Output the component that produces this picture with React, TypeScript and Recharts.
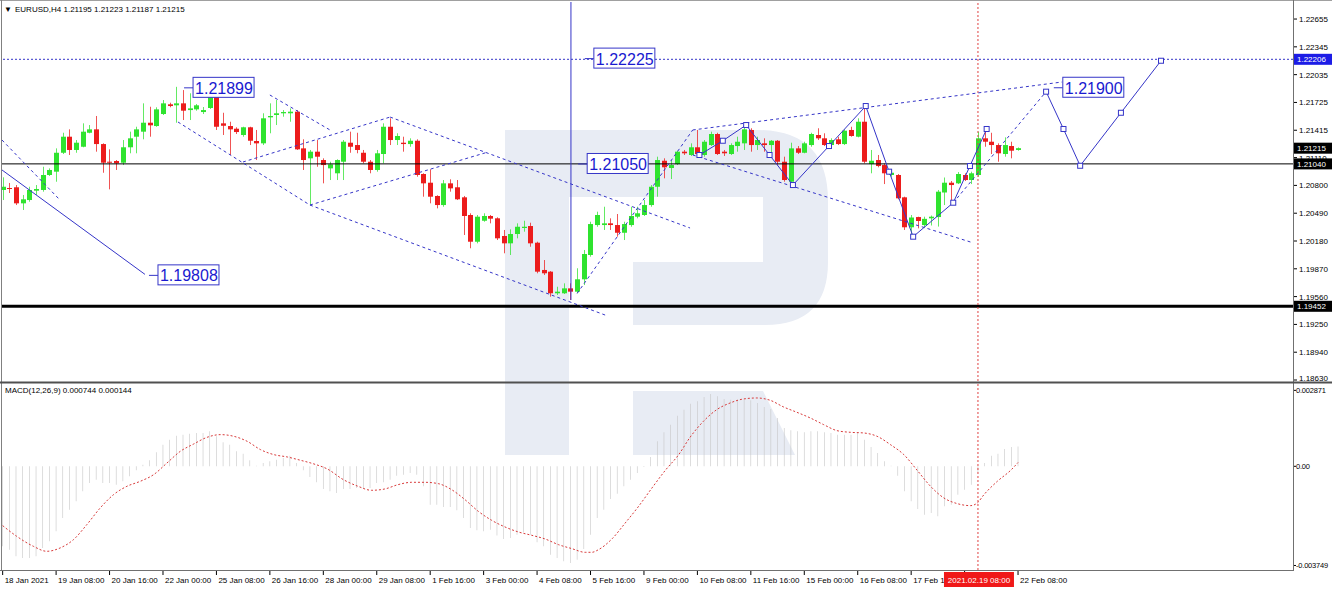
import React from "react";
import { ComposedChart, Bar, Line, XAxis, YAxis, ReferenceLine, ReferenceDot } from "recharts";

const FONT = "'Liberation Sans', Arial, sans-serif";
const BLUE = "#3535c8";
const BULL = "#2fe32f";
const BEAR = "#ec1c1c";
const W = 1332;
const AXIS_X = 1293;

// EURUSD H4 candles, 18 Jan 2021 00:00 .. 22 Feb 2021 08:00
const openP = [
  1.20749, 1.20771, 1.20779, 1.206, 1.20637, 1.20741, 1.20749, 1.20916, 1.20953, 1.21164,
  1.21343, 1.21195, 1.21231, 1.21387, 1.21425, 1.21261, 1.21064, 1.21072, 1.21053, 1.21225,
  1.21343, 1.21399, 1.21499, 1.21462, 1.21596, 1.21704, 1.21693, 1.21715, 1.2164, 1.21648,
  1.21618, 1.21663, 1.21797, 1.21492, 1.21462, 1.21432, 1.21362, 1.21448, 1.21295, 1.21269,
  1.21559, 1.21585, 1.21604, 1.21604, 1.21622, 1.21213, 1.21102, 1.21176, 1.21083, 1.2099,
  1.20935, 1.21064, 1.21276, 1.2125, 1.21164, 1.21064, 1.20972, 1.2115, 1.21454, 1.21306,
  1.21276, 1.21261, 1.21298, 1.20927, 1.2083, 1.20682, 1.20581, 1.20823, 1.20779, 1.20667,
  1.2047, 1.20172, 1.20406, 1.20459, 1.20433, 1.20236, 1.20154, 1.20258, 1.20325, 1.20347,
  1.20161, 1.19857, 1.19838, 1.19597, 1.19597, 1.19652, 1.19615, 1.19753, 1.20024, 1.20358,
  1.20358, 1.20377, 1.20358, 1.20272, 1.20358, 1.20451, 1.2047, 1.20581, 1.20785, 1.21075,
  1.20994, 1.21038, 1.21176, 1.21139, 1.21225, 1.21139, 1.2125, 1.21373, 1.21176, 1.2115,
  1.21239, 1.21269, 1.21418, 1.2125, 1.21269, 1.2125, 1.21298, 1.21064, 1.20841, 1.21213,
  1.21164, 1.2125, 1.21362, 1.21325, 1.2125, 1.21314, 1.21261, 1.21418, 1.21343, 1.2151,
  1.21038, 1.21083, 1.21027, 1.20916, 1.20916, 1.20667, 1.20333, 1.20447, 1.20358, 1.20433,
  1.20447, 1.20721, 1.2083, 1.20823, 1.20916, 1.2086, 1.20916, 1.21325, 1.21287, 1.2125,
  1.2115, 1.21239, 1.21195,
];
const highP = [
  1.2089, 1.20827, 1.20804, 1.20693, 1.20785, 1.20804, 1.21008, 1.2099, 1.21213, 1.21387,
  1.21425, 1.21306, 1.21492, 1.21473, 1.21574, 1.21269, 1.21202, 1.21083, 1.21306, 1.21399,
  1.21454, 1.21715, 1.21677, 1.21671, 1.21752, 1.21722, 1.21899, 1.21863, 1.21827, 1.21707,
  1.21674, 1.21808, 1.21827, 1.2161, 1.2151, 1.21448, 1.21454, 1.21454, 1.21418, 1.21604,
  1.21715, 1.21752, 1.2164, 1.21659, 1.2164, 1.21314, 1.21195, 1.21306, 1.21102, 1.21064,
  1.21091, 1.21306, 1.21399, 1.21387, 1.21195, 1.21083, 1.21195, 1.21492, 1.21548, 1.21381,
  1.21343, 1.21325, 1.21314, 1.20935, 1.20979, 1.2069, 1.2086, 1.20868, 1.2086, 1.20682,
  1.20489, 1.2047, 1.20489, 1.2047, 1.20444, 1.20303, 1.2031, 1.20377, 1.20406, 1.20384,
  1.20172, 1.19968, 1.19845, 1.1967, 1.19708, 1.19708, 1.19876, 1.2008, 1.20395, 1.20507,
  1.20562, 1.20433, 1.20481, 1.20395, 1.20562, 1.20562, 1.20637, 1.20804, 1.2112, 1.21102,
  1.21083, 1.21187, 1.21195, 1.21269, 1.21418, 1.21306, 1.21399, 1.21387, 1.21195, 1.21269,
  1.21343, 1.21473, 1.21437, 1.21343, 1.21325, 1.21306, 1.21306, 1.2112, 1.21276, 1.21239,
  1.21287, 1.21387, 1.21437, 1.21381, 1.21325, 1.21343, 1.21425, 1.21454, 1.21548, 1.21685,
  1.21195, 1.21139, 1.21046, 1.20972, 1.20927, 1.20674, 1.2047, 1.20451, 1.20451, 1.20464,
  1.20749, 1.20888, 1.20849, 1.20949, 1.20935, 1.20953, 1.21399, 1.21437, 1.21387, 1.21269,
  1.21336, 1.21287, 1.21223,
];
const lowP = [
  1.20637, 1.20715, 1.20581, 1.20526, 1.20618, 1.20693, 1.2073, 1.20905, 1.20841, 1.2115,
  1.21139, 1.21164, 1.21225, 1.21381, 1.21176, 1.20941, 1.20756, 1.20972, 1.21027, 1.21158,
  1.21158, 1.21314, 1.21343, 1.21454, 1.21585, 1.21671, 1.21499, 1.21529, 1.21529, 1.21633,
  1.21596, 1.21652, 1.21418, 1.21362, 1.21139, 1.21373, 1.21343, 1.2125, 1.21083, 1.2125,
  1.21381, 1.21473, 1.21566, 1.2151, 1.21195, 1.20972, 1.20581, 1.21008, 1.20823, 1.2086,
  1.2086, 1.2086, 1.21164, 1.21158, 1.21046, 1.20935, 1.20953, 1.21046, 1.2125, 1.2125,
  1.21176, 1.21231, 1.20897, 1.20674, 1.206, 1.20544, 1.20562, 1.2073, 1.20637, 1.20247,
  1.20099, 1.20154, 1.20395, 1.20377, 1.20191, 1.20043, 1.20024, 1.2021, 1.20284, 1.20116,
  1.1982, 1.19801, 1.19559, 1.19578, 1.19589, 1.19522, 1.19597, 1.19689, 1.20005, 1.20339,
  1.20303, 1.20303, 1.20228, 1.20191, 1.20339, 1.20433, 1.20459, 1.20562, 1.20674, 1.20879,
  1.20871, 1.21027, 1.21139, 1.21128, 1.21128, 1.2112, 1.21239, 1.21139, 1.21128, 1.21139,
  1.21176, 1.21195, 1.21176, 1.21195, 1.21176, 1.21158, 1.21027, 1.20841, 1.20804, 1.2115,
  1.21158, 1.21231, 1.21306, 1.21239, 1.21231, 1.2125, 1.2125, 1.21343, 1.21336, 1.21046,
  1.20935, 1.21002, 1.20815, 1.20897, 1.20645, 1.20303, 1.20228, 1.20321, 1.20336, 1.20353,
  1.20341, 1.20581, 1.20607, 1.20815, 1.20849, 1.20815, 1.20897, 1.21231, 1.2115, 1.21064,
  1.2112, 1.21102, 1.21187,
];
const closeP = [
  1.20785, 1.2076, 1.206, 1.20645, 1.20749, 1.2076, 1.20916, 1.20972, 1.21164, 1.21343,
  1.21195, 1.21276, 1.21399, 1.21425, 1.21261, 1.21053, 1.21053, 1.21046, 1.21225, 1.21325,
  1.21425, 1.21499, 1.2147, 1.21648, 1.21715, 1.21685, 1.21715, 1.21633, 1.21659, 1.21693,
  1.2164, 1.21791, 1.21454, 1.21465, 1.21425, 1.21395, 1.21448, 1.21298, 1.21269, 1.21548,
  1.21574, 1.21604, 1.21618, 1.21622, 1.21202, 1.21083, 1.21176, 1.2112, 1.21027, 1.21035,
  1.21083, 1.21287, 1.21231, 1.21195, 1.21064, 1.20972, 1.21158, 1.21454, 1.21306, 1.21351,
  1.21261, 1.21298, 1.20916, 1.20823, 1.20674, 1.20581, 1.20823, 1.20767, 1.20645, 1.20459,
  1.20172, 1.20451, 1.20459, 1.20429, 1.2021, 1.20154, 1.20258, 1.20339, 1.20339, 1.20154,
  1.19838, 1.1982, 1.19597, 1.19615, 1.19652, 1.19615, 1.19753, 1.20035, 1.20369, 1.2047,
  1.20377, 1.20358, 1.20272, 1.20369, 1.20459, 1.20489, 1.20581, 1.20785, 1.21083, 1.21002,
  1.21027, 1.21176, 1.21158, 1.21225, 1.2115, 1.21287, 1.21373, 1.2115, 1.21158, 1.2125,
  1.21287, 1.21425, 1.2125, 1.21306, 1.2125, 1.21298, 1.21064, 1.2086, 1.21213, 1.21164,
  1.21269, 1.21373, 1.21325, 1.2125, 1.21306, 1.21261, 1.2141, 1.21351, 1.2151, 1.21064,
  1.21075, 1.21016, 1.20935, 1.20941, 1.20656, 1.20333, 1.20442, 1.20403, 1.20427, 1.20451,
  1.2073, 1.2083, 1.20804, 1.20927, 1.2086, 1.20935, 1.21325, 1.21287, 1.2125, 1.21158,
  1.2125, 1.21187, 1.21215,
];

// MACD(12,26,9) main line, drawn as histogram
const macdHist = [
  -0.003024, -0.00315, -0.003402, -0.003465, -0.003465, -0.003402, -0.003087, -0.002835, -0.002457, -0.001953,
  -0.001638, -0.001323, -0.000945, -0.00063, -0.000504, -0.00063, -0.00063, -0.000693, -0.000567, -0.000378,
  -0.000151, 0.000063, 0.000227, 0.000529, 0.000819, 0.001008, 0.001159, 0.001197, 0.001235, 0.00126,
  0.00126, 0.001323, 0.001134, 0.000907, 0.000819, 0.000567, 0.000479, 0.000227, 0.000025, 0.000126,
  0.000189, 0.000252, 0.000315, 0.000403, 0.000126, -0.000151, -0.000403, -0.000605, -0.000857, -0.000945,
  -0.001008, -0.000857, -0.000857, -0.000819, -0.000819, -0.000819, -0.00063, -0.000605, -0.000504, -0.000353,
  -0.000315, -0.000252, -0.000315, -0.000756, -0.001449, -0.001449, -0.001537, -0.001537, -0.001663, -0.001953,
  -0.002331, -0.002419, -0.002457, -0.002394, -0.00262, -0.002747, -0.002709, -0.002583, -0.002495, -0.002583,
  -0.002873, -0.003024, -0.003339, -0.003465, -0.003591, -0.003654, -0.003528, -0.003125, -0.002583, -0.001953,
  -0.001638, -0.001235, -0.001033, -0.000756, -0.000504, -0.000252, -0.000025, 0.000353, 0.000945, 0.001285,
  0.001575, 0.001915, 0.002142, 0.002369, 0.002457, 0.002621, 0.002734, 0.002646, 0.002545, 0.00252,
  0.00252, 0.00252, 0.002495, 0.002394, 0.002243, 0.002167, 0.001827, 0.001449, 0.001361, 0.001323,
  0.001285, 0.001323, 0.001323, 0.001285, 0.00126, 0.001197, 0.001197, 0.001197, 0.001285, 0.001008,
  0.000731, 0.000504, 0.000189, 0.00002, -0.000353, -0.000945, -0.001323, -0.001613, -0.001827, -0.001764,
  -0.00189, -0.001512, -0.001449, -0.001071, -0.000882, -0.000693, -0.000227, 0.000126, 0.000403, 0.000479,
  0.000655, 0.000731, 0.000744,
];

// signal line, read at these bar positions
const signalIdx = [
  0, 2.1, 4.6, 6.6, 8.6, 10.6, 12.6, 14.6, 16.6, 18.6, 20.6, 22.6, 24.6, 26.6, 28.6, 30.6, 32.6, 34.6, 36.6, 38.6,
  40.6, 42.6, 44.6, 46.6, 48.6, 51, 53.2, 55.2, 57.2, 59.2, 61.2, 63.2, 65.2, 67.2, 69.2, 71.2, 73.2, 75.2, 77.2, 79.2,
  81.2, 83.2, 85.2, 87.2, 88.2, 89.2, 91.2, 93.2, 95.2, 97.2, 99.2, 101.2, 102.9, 104.9, 106.9, 108.9, 110.9, 112.9, 114.9, 116.9,
  118.9, 120.9, 122.9, 124.9, 126.9, 128.9, 130.9, 132.9, 134.9, 136.9, 138.9, 140.9, 142.9, 144.9, 145.9, 146.9, 148.9, 150.9, 152,
];
const signalVal = [
  -0.002243, -0.002646, -0.003024, -0.003213, -0.003087, -0.002772, -0.002205, -0.001575, -0.001071, -0.000756,
  -0.000567, -0.000315, 0.000126, 0.000567, 0.000844, 0.001096, 0.001197, 0.001134, 0.000945, 0.00063,
  0.000441, 0.000353, 0.000227, 0.000088, -0.000101, -0.000504, -0.000756, -0.000907, -0.000857, -0.000693,
  -0.000605, -0.000605, -0.000655, -0.000882, -0.00126, -0.001701, -0.002041, -0.002293, -0.002482, -0.002608,
  -0.002747, -0.002961, -0.003112, -0.003251, -0.003251, -0.00315, -0.002747, -0.002142, -0.001512, -0.000819,
  -0.000151, 0.000441, 0.001096, 0.001701, 0.002142, 0.002394, 0.002545, 0.002583, 0.002495, 0.002243,
  0.002041, 0.001827, 0.001575, 0.001348, 0.001285, 0.00126, 0.001134, 0.000819, 0.000441, -0.000151,
  -0.000756, -0.001197, -0.001411, -0.001487, -0.001386, -0.001071, -0.000567, -0.000151, 0.000144,
];

const priceTicks = [1.22655, 1.22345, 1.22035, 1.21725, 1.21415, 1.2111, 1.208, 1.2049, 1.2018, 1.1987, 1.1956, 1.1925, 1.1894, 1.1863];
const markPrices = [1.22206, 1.21215, 1.2104, 1.19452];
const markFill = ["#1c1ce6", "#000000", "#000000", "#000000"];
const macdTicks = [0.002871, 0, -0.003749];
const macdTickText = ["0.002871", "0.00", "-0.003749"];

const timeIdx = [0, 8, 16, 24, 32, 40, 48, 56, 64, 72, 80, 88, 96, 104, 112, 120, 128, 136, 144, 152];
const timeText = [
  "18 Jan 2021", "19 Jan 08:00", "20 Jan 16:00", "22 Jan 00:00", "25 Jan 08:00", "26 Jan 16:00", "28 Jan 00:00",
  "29 Jan 08:00", "1 Feb 16:00", "3 Feb 00:00", "4 Feb 08:00", "5 Feb 16:00", "9 Feb 00:00", "10 Feb 08:00",
  "11 Feb 16:00", "15 Feb 00:00", "16 Feb 08:00", "17 Feb 16:00", "19 Feb 00:00", "22 Feb 08:00",
];
const cursorIdx = 146;
const cursorText = "2021.02.19 08:00";

// analysis drawn on the chart, in (bar, price)
const zigzagIdx = [104.3, 107.8, 111.3, 114.8, 118.3, 123.7, 129.2, 132.7, 136.3, 142.3, 144.8, 147.3];
const zigzagPrice = [1.21139, 1.21298, 1.21473, 1.21139, 1.20804, 1.21239, 1.21685, 1.20953, 1.20228, 1.20607, 1.21016, 1.21429];
const forecastIdx = [156.2, 158.8, 161.3, 167.4, 173.4];
const forecastPrice = [1.21845, 1.21429, 1.21019, 1.2161, 1.2219];
const dashSegs = [
  [-0.1, 1.21306, 8.58, 1.20637],
  [26.24, 1.21507, 46.0, 1.20581],
  [40.0, 1.21808, 49.0, 1.21418],
  [35.97, 1.21061, 58.0, 1.21562],
  [58.0, 1.21562, 102.9, 1.20325],
  [46.0, 1.20581, 72.65, 1.21172],
  [46.0, 1.20581, 90.6, 1.19343],
  [86.0, 1.19596, 103.3, 1.21418],
  [103.3, 1.21418, 158.6, 1.21953],
  [103.3, 1.21139, 145.3, 1.20159],
  [142.3, 1.20607, 156.2, 1.21845],
];
const solidSegs = [
  [-0.1, 1.20972, 21.3, 1.19808],
  [85.07, 1.22845, 85.07, 1.19522],
];
const tagIdx = [28.5, 88.5, 87.5, 23.25, 158.7];
const tagPrice = [1.21899, 1.22225, 1.2105, 1.19808, 1.219];

const bars = openP.map((o, i) => ({
  i,
  o,
  h: highP[i],
  l: lowP[i],
  c: closeP[i],
  range: [lowP[i], highP[i]],
  macd: macdHist[i],
}));
const signalData = signalIdx.map((i, k) => ({ i, v: signalVal[k] }));
const zigzagData = zigzagIdx.map((i, k) => ({ i, p: zigzagPrice[k] }));
const forecastData = forecastIdx.map((i, k) => ({ i, p: forecastPrice[k] }));

const X_DOMAIN: [number, number] = [-0.1, 193.16];
const P_DOMAIN: [number, number] = [1.18619, 1.22845];
const M_DOMAIN: [number, number] = [-0.00392, 0.003149];

function Candle(props: any) {
  const { x, y, width, height, payload } = props;
  if (!payload) return null;
  const { o, h, l, c } = payload;
  const top = Math.min(y, y + height);
  const hh = Math.abs(height);
  const k = hh / Math.max(h - l, 1e-9);
  const yo = top + (h - o) * k;
  const yc = top + (h - c) * k;
  const cx = Math.round(x + width / 2) + 0.5;
  const col = c >= o ? BULL : BEAR;
  const bt = Math.min(yo, yc);
  const bh = Math.max(Math.abs(yc - yo), 1);
  return (
    <g>
      <line x1={cx} x2={cx} y1={top} y2={top + hh} stroke={col} strokeWidth={1} opacity={0.75} />
      <rect x={cx - 2.5} y={bt} width={5} height={bh} fill={col} />
    </g>
  );
}

function SquareDot(props: any) {
  const { cx, cy } = props;
  if (cx == null || cy == null) return null;
  return <rect x={cx - 2.5} y={cy - 2.5} width={5} height={5} fill="#fff" stroke={BLUE} strokeWidth={1} />;
}

function Tag(props: any) {
  const { cx, cy, text } = props;
  return (
    <g>
      <line x1={cx - 9} x2={cx} y1={cy + 1} y2={cy + 1} stroke={BLUE} strokeWidth={1} />
      <rect x={cx} y={cy - 9.5} width={61} height={20} fill="#fff" stroke={BLUE} strokeWidth={1} />
      <text x={cx + 2} y={cy + 7} fontSize={16} fill="#1a1ad0" fontFamily={FONT}>
        {text}
      </text>
    </g>
  );
}

function PriceTick(props: any) {
  const { y, payload } = props;
  const v = payload.value;
  const m = markPrices.indexOf(v);
  if (m >= 0) {
    return (
      <g>
        <rect x={AXIS_X + 1} y={y - 5.5} width={W - AXIS_X - 1} height={11} fill={markFill[m]} />
        <text x={AXIS_X + 4} y={y + 3} fontSize={8} fill="#fff" fontFamily={FONT}>
          {v.toFixed(5)}
        </text>
      </g>
    );
  }
  // lowest label sits just above the panel separator
  const ty = v === priceTicks[priceTicks.length - 1] ? y + 1 : y + 3;
  return (
    <g>
      <line x1={AXIS_X} x2={AXIS_X + 4} y1={y} y2={y} stroke="#000" />
      <text x={AXIS_X + 6} y={ty} fontSize={8} fill="#000" fontFamily={FONT}>
        {v.toFixed(5)}
      </text>
    </g>
  );
}

function MacdTick(props: any) {
  const { y, payload } = props;
  const k = macdTicks.indexOf(payload.value);
  return (
    <g>
      <line x1={AXIS_X} x2={AXIS_X + 3} y1={y} y2={y} stroke="#000" />
      <text x={AXIS_X + 3} y={y + 3} fontSize={7.5} letterSpacing={-0.2} fill="#000" fontFamily={FONT}>
        {macdTickText[k]}
      </text>
    </g>
  );
}

function TimeTick(props: any) {
  const { x, payload } = props;
  const v = payload.value;
  if (v === cursorIdx) {
    return (
      <g>
        <rect x={x - 34} y={189} width={70} height={15} fill="#f01818" />
        <text x={x + 1} y={200} fontSize={8} fill="#fff" textAnchor="middle" fontFamily={FONT}>
          {cursorText}
        </text>
      </g>
    );
  }
  const k = timeIdx.indexOf(v);
  return (
    <g>
      <line x1={x} x2={x} y1={187} y2={192} stroke="#000" />
      <text x={x + 2} y={200} fontSize={8} fill="#000" fontFamily={FONT}>
        {timeText[k]}
      </text>
    </g>
  );
}

function Logo() {
  const c = "#e8ecf4";
  return (
    <svg width={W} height={590} style={{ position: "absolute", left: 0, top: 0 }}>
      <rect x={505} y={130} width={64} height={325} fill={c} />
      <path
        d="M569 130 H757 Q828 130 828 201 V262 Q828 325 765 325 H633 V262 H763 V197 H569 Z"
        fill={c}
      />
      <path d="M633 391 H763 L795 455 H633 Z" fill={c} />
    </svg>
  );
}

function Frame() {
  return (
    <svg width={W} height={590} style={{ position: "absolute", left: 0, top: 0, pointerEvents: "none" }}>
      <line x1={0} x2={W} y1={0.5} y2={0.5} stroke="#a0a0a0" />
      <line x1={1.5} x2={1.5} y1={0} y2={570} stroke="#808080" />
      <line x1={AXIS_X + 0.5} x2={AXIS_X + 0.5} y1={0} y2={570} stroke="#707070" />
      <line x1={0} x2={W} y1={382.5} y2={382.5} stroke="#505050" strokeWidth={2} />
      <line x1={0} x2={AXIS_X + 1} y1={570.5} y2={570.5} stroke="#707070" />
      <text x={4} y={12} fontSize={8} fill="#000" fontFamily={FONT}>
        ▼
      </text>
      <text x={15} y={12} fontSize={8} fill="#000" fontFamily={FONT}>
        EURUSD,H4  1.21195 1.21223 1.21187 1.21215
      </text>
      <text x={5} y={393} fontSize={8} fill="#000" fontFamily={FONT}>
        MACD(12,26,9) 0.000744 0.000144
      </text>
    </svg>
  );
}

export default function App() {
  return (
    <div style={{ position: "absolute", left: 0, top: 0, width: W, height: 590, background: "#fff", fontFamily: FONT }}>
      <Logo />
      <div style={{ position: "absolute", left: 0, top: 0 }}>
        <ComposedChart width={W} height={383} data={bars} margin={{ top: 2, right: 0, bottom: 2, left: 2 }}>
          <XAxis dataKey="i" type="number" domain={X_DOMAIN} allowDataOverflow hide />
          <YAxis
            orientation="right"
            width={W - AXIS_X}
            domain={P_DOMAIN}
            allowDataOverflow
            ticks={[...priceTicks, ...markPrices]}
            interval={0}
            tick={<PriceTick />}
            tickLine={false}
            axisLine={false}
          />
          <ReferenceLine y={1.22206} stroke={BLUE} strokeDasharray="2 2" />
          <ReferenceLine y={1.2104} stroke="#000" strokeWidth={1} />
          <ReferenceLine y={1.19452} stroke="#000" strokeWidth={3} />
          <ReferenceLine x={cursorIdx} stroke="#e04040" strokeDasharray="2 2" />
          {dashSegs.map((s, k) => (
            <ReferenceLine
              key={"d" + k}
              segment={[{ x: s[0], y: s[1] }, { x: s[2], y: s[3] }]}
              stroke={BLUE}
              strokeDasharray="3 3"
              ifOverflow="visible"
            />
          ))}
          {solidSegs.map((s, k) => (
            <ReferenceLine
              key={"s" + k}
              segment={[{ x: s[0], y: s[1] }, { x: s[2], y: s[3] }]}
              stroke={BLUE}
              ifOverflow="visible"
            />
          ))}
          <Bar dataKey="range" barSize={5} shape={<Candle />} isAnimationActive={false} />
          <Line
            data={zigzagData}
            dataKey="p"
            type="linear"
            stroke={BLUE}
            strokeWidth={1}
            dot={<SquareDot />}
            activeDot={false}
            isAnimationActive={false}
          />
          <Line
            data={forecastData}
            dataKey="p"
            type="linear"
            stroke={BLUE}
            strokeWidth={1}
            dot={<SquareDot />}
            activeDot={false}
            isAnimationActive={false}
          />
          {tagIdx.map((x, k) => (
            <ReferenceDot
              key={"t" + k}
              x={x}
              y={tagPrice[k]}
              r={0}
              ifOverflow="visible"
              shape={(p: any) => <Tag cx={p.cx} cy={p.cy} text={tagPrice[k].toFixed(5)} />}
            />
          ))}
        </ComposedChart>
      </div>
      <div style={{ position: "absolute", left: 0, top: 383 }}>
        <ComposedChart width={W} height={207} data={bars} margin={{ top: 0, right: 0, bottom: 0, left: 2 }}>
          <XAxis
            dataKey="i"
            type="number"
            domain={X_DOMAIN}
            allowDataOverflow
            ticks={[...timeIdx, cursorIdx]}
            interval={0}
            tick={<TimeTick />}
            tickLine={false}
            axisLine={false}
            height={20}
          />
          <YAxis
            orientation="right"
            width={W - AXIS_X}
            domain={M_DOMAIN}
            allowDataOverflow
            ticks={macdTicks}
            interval={0}
            tick={<MacdTick />}
            tickLine={false}
            axisLine={false}
          />
          <Bar dataKey="macd" barSize={1} fill="#c6c6c6" isAnimationActive={false} />
          <Line
            data={signalData}
            dataKey="v"
            type="monotone"
            stroke="#d83a3a"
            strokeWidth={1}
            strokeDasharray="2 2"
            dot={false}
            activeDot={false}
            isAnimationActive={false}
          />
          <ReferenceLine x={cursorIdx} stroke="#e04040" strokeDasharray="2 2" />
        </ComposedChart>
      </div>
      <Frame />
    </div>
  );
}
